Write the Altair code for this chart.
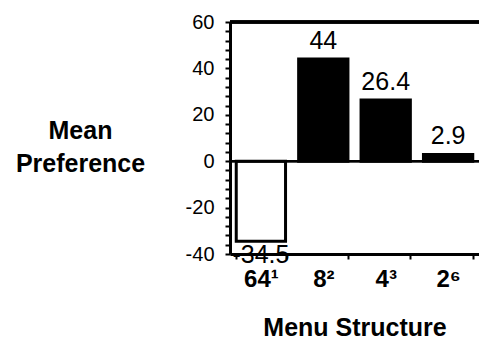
import altair as alt
import pandas as pd

categories = ["64¹", "8²", "4³", "2⁶"]
values = [-34.5, 44, 26.4, 2.9]
value_labels = ["-34.5", "44", "26.4", "2.9"]
y_ticks = list(range(-40, 61, 4))

df = pd.DataFrame({"structure": categories, "pref": values, "label": value_labels})

FONT = "Liberation Sans"

x_enc = alt.X(
    "structure:N",
    sort=None,
    scale=alt.Scale(paddingInner=0.21, paddingOuter=0.1),
    axis=alt.Axis(
        title="Menu Structure",
        titleFont=FONT, titleFontSize=25, titleFontWeight="bold", titleColor="black",
        titleY=81, titleBaseline="alphabetic",
        labelFont=FONT, labelFontSize=24, labelFontWeight="bold", labelColor="black",
        labelAngle=0, labelPadding=8,
        domainColor="black", domainWidth=3,
        tickBand="extent", tickSize=5, tickWidth=2, tickColor="black",
    ),
)

y_scale = alt.Scale(domain=[-40, 60], nice=False, zero=False)

bars = alt.Chart(df).mark_bar(stroke="black", strokeWidth=3).encode(
    x=x_enc,
    y=alt.Y(
        "pref:Q",
        scale=y_scale,
        axis=alt.Axis(
            title=["Mean", "Preference"],
            titleFont=FONT, titleFontSize=25, titleFontWeight="bold", titleColor="black",
            titleAngle=0, titleAlign="center", titleBaseline="alphabetic",
            titleX=-150, titleY=116, titleLineHeight=33,
            values=y_ticks,
            tickCount=len(y_ticks),
            labelExpr="datum.value % 20 === 0 ? '' + datum.value : ''",
            labelOverlap=False,
            labelFont=FONT, labelFontSize=20, labelColor="black", labelPadding=11,
            domainColor="black", domainWidth=3,
            tickColor="black", tickWidth=2, tickSize=5,
            grid=False,
        ),
    ),
    y2=alt.datum(0),
    color=alt.condition("datum.pref < 0", alt.value("white"), alt.value("black")),
)

top_line = alt.Chart(df).mark_rule(color="black", strokeWidth=3).encode(
    y=alt.datum(60, scale=y_scale)
)
zero_line = alt.Chart(df).mark_rule(color="black", strokeWidth=2).encode(
    y=alt.datum(0, scale=y_scale)
)

pos_text = alt.Chart(df).transform_filter("datum.pref >= 0").mark_text(
    font=FONT, fontSize=25, color="black", baseline="alphabetic", dy=-10
).encode(x=alt.X("structure:N", sort=None), y=alt.Y("pref:Q", scale=y_scale), text="label:N")

neg_text = alt.Chart(df).transform_filter("datum.pref < 0").mark_text(
    font=FONT, fontSize=25, color="black", baseline="top", dy=2
).encode(x=alt.X("structure:N", sort=None), y=alt.Y("pref:Q", scale=y_scale), text="label:N")

chart = alt.layer(bars, zero_line, top_line, pos_text, neg_text).properties(
    width=249, height=232,
    autosize=alt.AutoSizeParams(type="none"),
    padding={"left": 230, "top": 22, "right": 0, "bottom": 86},
).configure_view(stroke=None).configure(background="white")

chart.save("out.html", embed_options={"renderer": "svg", "actions": False})
